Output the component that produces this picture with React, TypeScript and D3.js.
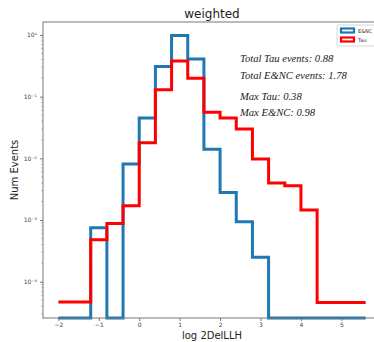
import * as React from 'react';
import * as d3 from 'd3';

// bin edges of the histogram (log 2DelLLH)
const binEdges = [-2, -1.6, -1.2, -0.8, -0.4, 0, 0.4, 0.8, 1.2, 1.6, 2.0, 2.4, 2.8, 3.2, 3.6, 4.0, 4.4, 4.8, 5.2, 5.6];
const encValues = [0, 0, 7.5e-4, 0, 8.1e-3, 0.045, 0.31, 0.98, 0.41, 0.014, 2.8e-3, 9.4e-4, 2.5e-4, 0, 0, 0, 0, 0, 0];
const tauValues = [4.7e-5, 4.7e-5, 4.8e-4, 8.8e-4, 1.7e-3, 0.018, 0.13, 0.38, 0.2, 0.056, 0.045, 0.03, 9.8e-3, 4.0e-3, 3.6e-3, 1.45e-3, 4.6e-5, 4.6e-5, 4.6e-5];
const xTicks = [-2, -1, 0, 1, 2, 3, 4, 5];
const yTicks = [1, 0.1, 0.01, 0.001, 0.0001];
const yTickLabels = ['10⁰', '10⁻¹', '10⁻²', '10⁻³', '10⁻⁴'];
const notes = ['Total Tau events: 0.88', 'Total E&NC events: 1.78', 'Max Tau: 0.38', 'Max E&NC: 0.98'];
const legendNames = ['E&NC', 'Tau'];
const colors = ['#1f77b4', '#ff0000'];

const W = 374;
const H = 342;
const margin = {top: 22, left: 43, bottom: 318, right: 381};

export default function App() {
  const ref = React.useRef<SVGSVGElement>(null);

  React.useEffect(() => {
    const svg = d3.select(ref.current);
    svg.selectAll('*').remove();

    const x = d3.scaleLinear().domain([-2.38, 5.98]).range([margin.left, margin.right]);
    const yMin = Math.pow(10, -4.588);
    const y = d3.scaleLog().domain([yMin, Math.pow(10, 0.211)]).range([margin.bottom, margin.top]);

    svg.append('defs').append('clipPath').attr('id', 'plotclip')
      .append('rect')
      .attr('x', margin.left).attr('y', margin.top - 2)
      .attr('width', margin.right - margin.left).attr('height', margin.bottom - margin.top + 4);

    const step = d3.line<[number, number]>()
      .x(d => x(d[0]))
      .y(d => y(Math.max(d[1], yMin)))
      .curve(d3.curveStepAfter);

    const series = [encValues, tauValues];
    series.forEach((vals, i) => {
      const pts: [number, number][] = vals.map((v, j) => [binEdges[j], v]);
      pts.push([binEdges[binEdges.length - 1], vals[vals.length - 1]]);
      svg.append('path').datum(pts)
        .attr('clip-path', 'url(#plotclip)')
        .attr('fill', 'none')
        .attr('stroke', colors[i])
        .attr('stroke-width', 3)
        .attr('d', step);
    });

    // frame
    svg.append('rect')
      .attr('x', margin.left).attr('y', margin.top)
      .attr('width', margin.right - margin.left).attr('height', margin.bottom - margin.top)
      .attr('fill', 'none').attr('stroke', '#777').attr('stroke-width', 1);

    const xAxis = svg.append('g').attr('transform', `translate(0,${margin.bottom})`)
      .call(d3.axisBottom(x).tickValues(xTicks).tickSize(3).tickPadding(2)
        .tickFormat(d => d3.format('d')(d as number).replace('-', '−')));
    xAxis.select('.domain').remove();
    xAxis.selectAll('line').attr('stroke', '#777');
    xAxis.selectAll('text').attr('font-size', 6).attr('font-family', 'DejaVu Sans').attr('fill', '#444');

    // minor y ticks
    const minor: number[] = [];
    for (let e = -5; e <= 0; e++) {
      for (let k = 2; k <= 9; k++) {
        const v = k * Math.pow(10, e);
        if (v > yMin && v < Math.pow(10, 0.211)) minor.push(v);
      }
    }
    svg.append('g').selectAll('line').data(minor).join('line')
      .attr('x1', margin.left - 1.8).attr('x2', margin.left)
      .attr('y1', d => y(d)).attr('y2', d => y(d))
      .attr('stroke', '#888').attr('stroke-width', 0.6);

    const yAxis = svg.append('g').attr('transform', `translate(${margin.left},0)`)
      .call(d3.axisLeft(y).tickValues(yTicks).tickSize(3).tickPadding(3)
        .tickFormat((d, i) => yTickLabels[i]));
    yAxis.select('.domain').remove();
    yAxis.selectAll('line').attr('stroke', '#777');
    yAxis.selectAll('text').attr('font-size', 6).attr('font-family', 'DejaVu Sans').attr('fill', '#444');

    svg.append('text').text('weighted')
      .attr('x', (margin.left + margin.right) / 2).attr('y', 18)
      .attr('text-anchor', 'middle').attr('font-family', 'DejaVu Sans').attr('font-size', 12).attr('fill', '#222');

    svg.append('text').text('log 2DelLLH')
      .attr('x', (margin.left + margin.right) / 2).attr('y', 339)
      .attr('text-anchor', 'middle').attr('font-family', 'DejaVu Sans').attr('font-size', 10).attr('fill', '#222');

    svg.append('text').text('Num Events')
      .attr('transform', `translate(18,${(margin.top + margin.bottom) / 2}) rotate(-90)`)
      .attr('text-anchor', 'middle').attr('font-family', 'DejaVu Sans').attr('font-size', 10).attr('fill', '#222');

    const noteY = [61.5, 78.5, 100, 115.5];
    svg.append('g').selectAll('text').data(notes).join('text')
      .text(d => d)
      .attr('x', 240).attr('y', (d, i) => noteY[i])
      .attr('font-family', 'Liberation Serif').attr('font-style', 'italic')
      .attr('font-size', 10.6).attr('fill', '#222');

    // legend
    const lg = svg.append('g');
    lg.append('rect').attr('x', 337).attr('y', 25).attr('width', 40).attr('height', 21)
      .attr('rx', 1.5).attr('fill', 'white').attr('stroke', '#ccc').attr('stroke-width', 0.8);
    legendNames.forEach((name, i) => {
      lg.append('rect').attr('x', 341).attr('y', 28.5 + i * 9).attr('width', 13).attr('height', 4)
        .attr('fill', 'white').attr('stroke', colors[i]).attr('stroke-width', 2.2);
      lg.append('text').text(name).attr('x', 358).attr('y', 33 + i * 9)
        .attr('font-family', 'DejaVu Sans').attr('font-size', 5).attr('fill', '#333');
    });
  }, []);

  return (
    <svg ref={ref} width={W} height={H} style={{position: 'absolute', left: 0, top: 0, background: 'white'}}></svg>
  );
}
